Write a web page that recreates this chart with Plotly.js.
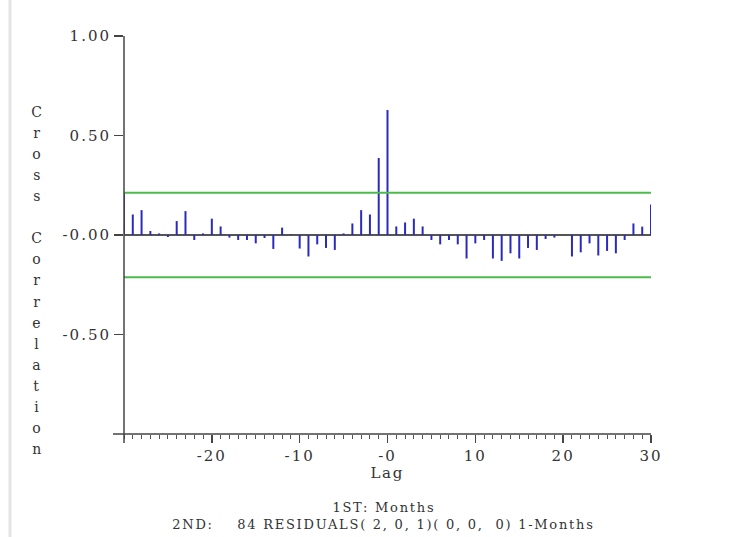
<!DOCTYPE html>
<html>
<head>
<meta charset="utf-8">
<script src="https://cdn.plot.ly/plotly-3.0.1.min.js"></script>
<style>
html,body{margin:0;padding:0;background:#fff;}
#chart{width:749px;height:537px;}
#chart .xtick text, #chart .ytick text{letter-spacing:2px;}
#chart .annotation-text{letter-spacing:1.75px;}
</style>
</head>
<body>
<div id="chart"></div>
<script>
// ---- data ----
const lags = [-30,-29,-28,-27,-26,-25,-24,-23,-22,-21,-20,-19,-18,-17,-16,-15,-14,-13,-12,-11,
              -10,-9,-8,-7,-6,-5,-4,-3,-2,-1,0,1,2,3,4,5,6,7,8,9,
              10,11,12,13,14,15,16,17,18,19,20,21,22,23,24,25,26,27,28,29,30];
const crossCorr = [0.215,0.103,0.125,0.020,0.008,-0.010,0.070,0.120,-0.025,0.008,
                   0.082,0.043,-0.013,-0.025,-0.025,-0.042,-0.015,-0.070,0.037,0.003,
                   -0.068,-0.108,-0.047,-0.065,-0.075,0.008,0.058,0.125,0.103,0.387,
                   0.628,0.043,0.063,0.082,0.043,-0.025,-0.047,-0.025,-0.047,-0.118,
                   -0.042,-0.025,-0.118,-0.130,-0.092,-0.118,-0.065,-0.075,-0.020,-0.013,
                   0.000,-0.108,-0.087,-0.042,-0.103,-0.080,-0.092,-0.025,0.058,0.042,0.153];
const confLimit = 0.212;
const confLags = [-30, 30];
const xTickVals = [-20,-10,0,10,20,30];
const xTickText = ['-20','-10','-0','10','20','30'];
const yTickVals = [-0.5,0,0.5,1];
const yTickText = ['-0.50','-0.00','0.50','1.00'];
const yTitle = 'Cross Correlation';
const xTitle = 'Lag';
const footLines = ['1ST: Months', '2ND:&nbsp;&nbsp;&nbsp;&nbsp;84 RESIDUALS( 2, 0, 1)( 0, 0,&nbsp;&nbsp;0) 1-Months'];

// ---- geometry helpers (plot area in px) ----
const L = 124, R = 651, T = 36, B = 434;
const W = R - L, H = B - T;
const px2x = p => (p - L) / W;
const px2y = p => (B - p) / H;

// needle traces
const nx = [], ny = [];
lags.forEach((lg, i) => { nx.push(lg, lg, null); ny.push(0, crossCorr[i], null); });

const FONT = 'DejaVu Serif, serif';
const TXT = '#333';

const traces = [
  {x: nx, y: ny, type: 'scatter', mode: 'lines', line: {color: '#2a2abf', width: 2}, hoverinfo: 'skip', showlegend: false},
  {x: confLags, y: [confLimit, confLimit], type: 'scatter', mode: 'lines', line: {color: '#4cbb4c', width: 2}, showlegend: false},
  {x: confLags, y: [-confLimit, -confLimit], type: 'scatter', mode: 'lines', line: {color: '#4cbb4c', width: 2}, showlegend: false}
];

const annotations = [];
const letters = yTitle.split('');
letters.forEach((ch, i) => {
  if (ch === ' ') return;
  annotations.push({text: ch, xref: 'paper', yref: 'paper', x: px2x(37), y: px2y(112 + i * 21.06),
    xanchor: 'center', yanchor: 'middle', showarrow: false, font: {family: FONT, size: 14, color: TXT}});
});
annotations.push({text: xTitle, xref: 'paper', yref: 'paper', x: px2x(387), y: px2y(473),
  xanchor: 'center', yanchor: 'middle', showarrow: false, font: {family: FONT, size: 15, color: TXT}});
annotations.push({text: footLines[0], xref: 'paper', yref: 'paper', x: px2x(384), y: px2y(507),
  xanchor: 'center', yanchor: 'middle', showarrow: false, font: {family: FONT, size: 13, color: TXT}});
annotations.push({text: footLines[1], xref: 'paper', yref: 'paper', x: px2x(383), y: px2y(524),
  xanchor: 'center', yanchor: 'middle', showarrow: false, font: {family: FONT, size: 13, color: TXT}});

const layout = {
  width: 749, height: 537,
  margin: {l: L, r: 749 - R, t: T, b: 537 - B},
  paper_bgcolor: '#fff', plot_bgcolor: '#fff',
  showlegend: false,
  xaxis: {
    range: [-30, 30], showgrid: false, zeroline: false, showline: false,
    tickmode: 'array', tickvals: xTickVals, ticktext: xTickText,
    ticks: 'outside', ticklen: 8, tickwidth: 1.5, tickcolor: '#444',
    minor: {dtick: 1, tick0: 0, ticks: 'outside', ticklen: 4, tickwidth: 1, tickcolor: '#555', showgrid: false},
    tickfont: {family: FONT, size: 15, color: TXT}, fixedrange: true
  },
  yaxis: {
    range: [-1, 1], showgrid: false, zeroline: true, zerolinecolor: '#555', zerolinewidth: 2,
    showline: false,
    tickmode: 'array', tickvals: yTickVals, ticktext: yTickText,
    ticks: 'outside', ticklen: 9, tickwidth: 1.5, tickcolor: '#444',
    tickfont: {family: FONT, size: 15, color: TXT}, fixedrange: true
  },
  shapes: [
    {type: 'line', xref: 'paper', yref: 'paper', x0: 0, x1: 0, y0: px2y(443), y1: 1, line: {color: '#444', width: 1.5}},
    {type: 'line', xref: 'paper', yref: 'paper', x0: px2x(113), x1: 1, y0: 0, y1: 0, line: {color: '#444', width: 1.5}},
    {type: 'line', xref: 'paper', yref: 'paper', x0: px2x(10), x1: px2x(10), y0: px2y(537), y1: px2y(0), line: {color: '#e4e4e4', width: 3}}
  ],
  annotations: annotations
};

Plotly.newPlot('chart', traces, layout, {displayModeBar: false, staticPlot: true});
</script>
</body>
</html>
